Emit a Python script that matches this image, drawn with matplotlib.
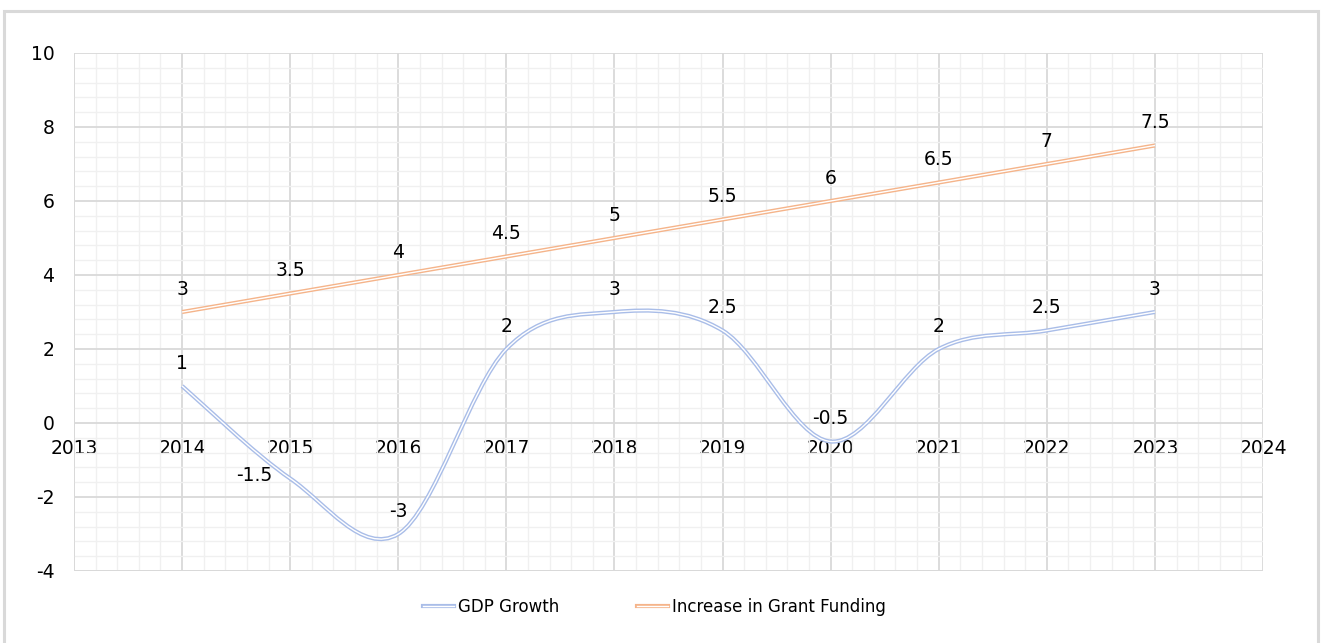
import matplotlib as mpl
mpl.use("Agg")
import matplotlib.pyplot as plt
from matplotlib.path import Path
from matplotlib.patches import PathPatch, Rectangle
from matplotlib.lines import Line2D
from matplotlib.ticker import MultipleLocator
import numpy as np

plt.rcParams["axes.unicode_minus"] = False

years = [2014, 2015, 2016, 2017, 2018, 2019, 2020, 2021, 2022, 2023]
gdp_growth = [1, -1.5, -3, 2, 3, 2.5, -0.5, 2, 2.5, 3]
grant_funding = [3, 3.5, 4, 4.5, 5, 5.5, 6, 6.5, 7, 7.5]

blue = "#a9bde8"
orange = "#f5b48a"


def smooth_path(xs, ys):
    # Excel-style smoothed line: cubic bezier through each point
    pts = np.column_stack([xs, ys]).astype(float)
    n = len(pts)
    verts = [pts[0]]
    codes = [Path.MOVETO]
    for i in range(n - 1):
        p0 = pts[max(i - 1, 0)]
        p1 = pts[i]
        p2 = pts[i + 1]
        p3 = pts[min(i + 2, n - 1)]
        c1 = p1 + (p2 - p0) / 6
        c2 = p2 - (p3 - p1) / 6
        verts += [c1, c2, p2]
        codes += [Path.CURVE4] * 3
    return Path(verts, codes)


def double_line(ax, xs, ys, color):
    path = smooth_path(xs, ys)
    ax.add_patch(PathPatch(path, facecolor="none", edgecolor=color,
                           lw=3.0, capstyle="butt", zorder=3))
    ax.add_patch(PathPatch(path, facecolor="none", edgecolor="white",
                           lw=1.0, capstyle="butt", zorder=4))


fig = plt.figure(figsize=(13.21, 6.43), dpi=100)
fig.patches.append(Rectangle((4 / 1321, -0.05), 1314 / 1321, 0.05 + 632 / 643,
                             transform=fig.transFigure, fill=False,
                             edgecolor="#d9d9d9", lw=2.2))

ax = fig.add_axes([74 / 1321, 1 - 571 / 643, (1263 - 74) / 1321, (571 - 53) / 643])
ax.set_xlim(2013, 2024)
ax.set_ylim(-4, 10)

ax.xaxis.set_major_locator(MultipleLocator(1))
ax.xaxis.set_minor_locator(MultipleLocator(0.2))
ax.yaxis.set_major_locator(MultipleLocator(2))
ax.yaxis.set_minor_locator(MultipleLocator(0.4))
ax.grid(which="major", color="#d9d9d9", lw=1.3, zorder=1)
ax.grid(which="minor", color="#f0f0f0", lw=1.0, zorder=0)
ax.set_axisbelow(True)

for s in ["top", "right", "left"]:
    ax.spines[s].set_visible(False)
ax.spines["bottom"].set_position(("data", 0))
ax.spines["bottom"].set_visible(False)
ax.tick_params(which="both", length=0)
ax.tick_params(axis="x", labelsize=13.5, pad=11.5, colors="#000000")
ax.tick_params(axis="y", labelsize=13.5, pad=14, colors="#000000")

# plot area outline (left/bottom light lines)
ax.plot([2013, 2013], [-4, 10], color="#d9d9d9", lw=1.3, zorder=1)
ax.plot([2013, 2024], [-4, -4], color="#d9d9d9", lw=1.3, zorder=1)

double_line(ax, years, gdp_growth, blue)
double_line(ax, years, grant_funding, orange)

for x, y in zip(years, gdp_growth):
    if y == -1.5:
        ax.annotate(f"{y:g}", (x, y), xytext=(-13, 2), textcoords="offset points",
                    ha="right", va="center", fontsize=13.5, zorder=5)
    else:
        ax.annotate(f"{y:g}", (x, y), xytext=(0, 16.5), textcoords="offset points",
                    ha="center", va="center", fontsize=13.5, zorder=5)
for x, y in zip(years, grant_funding):
    ax.annotate(f"{y:g}", (x, y), xytext=(0, 16.5), textcoords="offset points",
                ha="center", va="center", fontsize=13.5, zorder=5)

h_gdp = (Line2D([], [], color=blue, lw=3.0), Line2D([], [], color="white", lw=1.0))
h_grant = (Line2D([], [], color=orange, lw=3.0), Line2D([], [], color="white", lw=1.0))
fig.legend([h_gdp, h_grant], ["GDP Growth", "Increase in Grant Funding"],
           loc="center", bbox_to_anchor=(0.5 - 6 / 1321, 1 - 607 / 643), ncol=2,
           frameon=False, fontsize=12, handlelength=1.85, handletextpad=0.25,
           columnspacing=4.7)

fig.savefig("out.png", dpi=100)
